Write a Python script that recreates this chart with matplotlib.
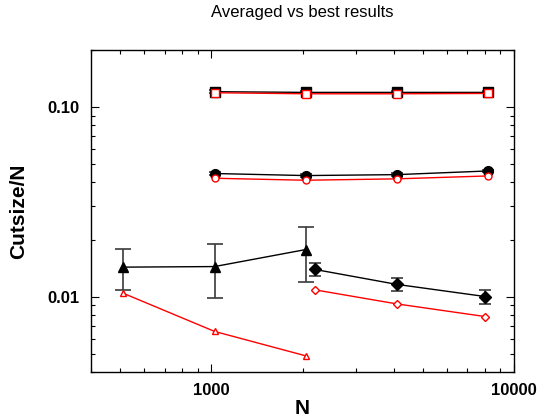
import matplotlib
matplotlib.use("Agg")
import matplotlib.pyplot as plt
from matplotlib.ticker import FixedLocator, NullFormatter, FixedFormatter, LogLocator

plt.rcParams['font.family'] = ['Liberation Sans', 'DejaVu Sans']

# Data
N_big = [1024, 2048, 4096, 8192]
sq_avg = [0.1205, 0.1195, 0.1195, 0.1195]
sq_avg_err = [0.002, 0.0015, 0.0015, 0.0015]
sq_best = [0.119, 0.1175, 0.1175, 0.118]

ci_avg = [0.0446, 0.0435, 0.0440, 0.0460]
ci_avg_err = [0.0008, 0.0008, 0.0008, 0.0008]
ci_best = [0.0421, 0.0411, 0.0418, 0.0433]

N_tri = [512, 1024, 2048]
tri_avg = [0.0143, 0.0144, 0.0177]
tri_avg_err = [0.0035, 0.0046, 0.0057]
tri_best = [0.0104, 0.00655, 0.00487]

N_dia = [2200, 4096, 8050]
dia_avg = [0.0139, 0.0116, 0.0100]
dia_avg_err = [0.0011, 0.00095, 0.00085]
dia_best = [0.01085, 0.00915, 0.00784]

xticks = [1000, 10000]
xticklabels = ['1000', '10000']
yticks = [0.01, 0.1]
yticklabels = ['0.01', '0.10']

fig = plt.figure(figsize=(5.38, 4.2), dpi=100)
ax = fig.add_axes([91/538, 48/420, (514-91)/538, (372-50)/420])

ecol = '#3a3a3a'
def avg(x, y, e, m, ms, cs):
    ax.errorbar(x, y, yerr=e, color='black', ecolor=ecol, elinewidth=1.2,
                capsize=cs, capthick=1.2, marker=m, ms=ms, mfc='black',
                mec='black', lw=1, zorder=2)

def best(x, y, m, ms):
    ax.plot(x, y, color='red', lw=1, marker=m, ms=ms, mfc='white',
            mec='red', mew=1, zorder=3)

avg(N_big, sq_avg, sq_avg_err, 's', 6.5, 4)
best(N_big, sq_best, 's', 5.5)
avg(N_big, ci_avg, ci_avg_err, 'o', 7, 4.5)
best(N_big, ci_best, 'o', 5)
avg(N_tri, tri_avg, tri_avg_err, '^', 7.5, 5.8)
best(N_tri, tri_best, '^', 5)
avg(N_dia, dia_avg, dia_avg_err, 'D', 6.5, 4.5)
best(N_dia, dia_best, 'D', 4)

ax.set_xscale('log')
ax.set_yscale('log')
ax.set_xlim(400, 10000)
ax.set_ylim(0.004, 0.2)

ax.xaxis.set_major_locator(FixedLocator(xticks))
ax.xaxis.set_major_formatter(FixedFormatter(xticklabels))
ax.xaxis.set_minor_locator(LogLocator(base=10, subs=range(2, 10)))
ax.xaxis.set_minor_formatter(NullFormatter())
ax.yaxis.set_major_locator(FixedLocator(yticks))
ax.yaxis.set_major_formatter(FixedFormatter(yticklabels))
ax.yaxis.set_minor_locator(LogLocator(base=10, subs=range(2, 10)))
ax.yaxis.set_minor_formatter(NullFormatter())

ax.tick_params(which='both', direction='in', top=True, right=True, width=0.8)
ax.tick_params(which='major', length=6, labelsize=12, pad=8)
ax.tick_params(which='minor', length=3)
for lab in ax.get_xticklabels() + ax.get_yticklabels():
    lab.set_fontweight('bold')
for s in ax.spines.values():
    s.set_linewidth(1.0)

ax.set_xlabel('N', fontsize=15, fontweight='bold')
ax.xaxis.set_label_coords(0.5, -(409 - 372) / 322)
ax.xaxis.label.set_va('center')
ax.set_ylabel('Cutsize/N', fontsize=15, fontweight='bold')
ax.yaxis.set_label_coords(-(91 - 19) / 423, (372 - 211) / 322)
ax.yaxis.label.set_va('center')
fig.text(302.5/538, 1 - 13/420, 'Averaged vs best results', ha='center',
         va='center', fontsize=12)

fig.savefig('out.png', dpi=100)
